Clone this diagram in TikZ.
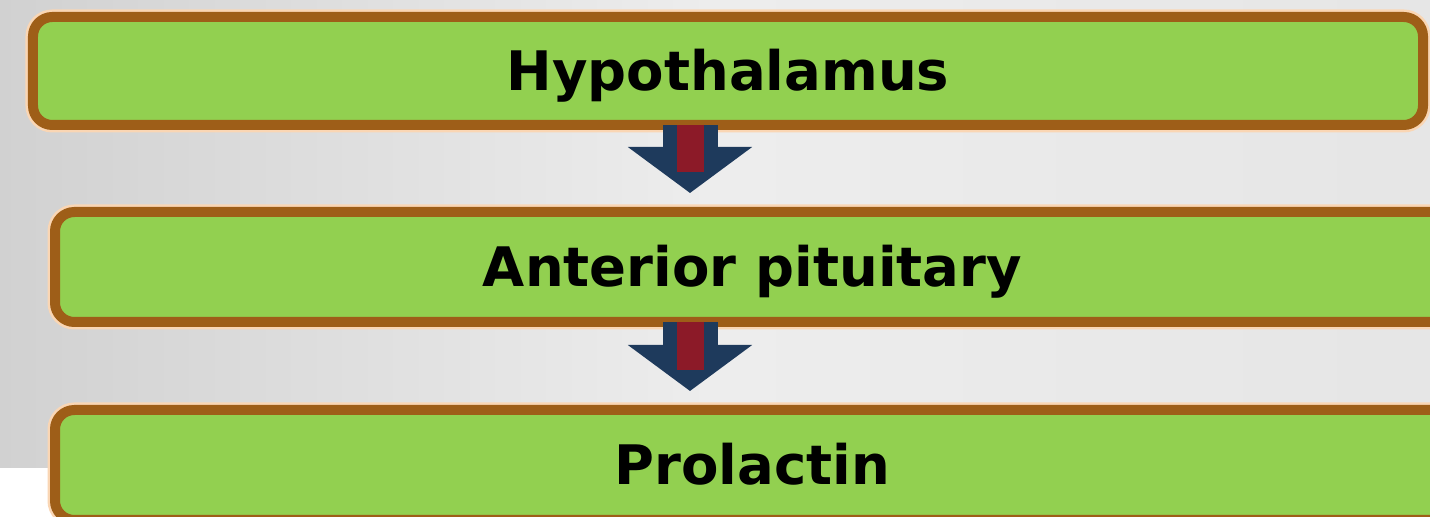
\documentclass[tikz,border=0pt]{standalone}
\usepackage{fontspec}
\setmainfont{DejaVu Sans}
\usepackage{tikz}
\usepackage{xcolor}
\usetikzlibrary{arrows.meta, positioning, calc}
\definecolor{cGreen}{RGB}{146,208,80}
\definecolor{cBrown}{RGB}{158,94,24}
\definecolor{cGlow}{RGB}{250,214,180}
\definecolor{cNavy}{RGB}{30,58,92}
\definecolor{cRed}{RGB}{140,26,40}
\tikzset{
	stagebox/.style={rectangle, rounded corners=11pt, draw=cBrown, line width=0.2cm, fill=cGreen,
		preaction={draw=cGlow, line width=0.3cm}, align=center, inner sep=0pt,
		text height=0.8cm, text depth=0cm, font=\fontsize{31}{36}\selectfont\bfseries},
	blockarr/.style={-{Triangle[width=2.44cm, length=0.92cm]}, line width=1.1cm, cNavy},
	arrcore/.style ={line width=0.54cm, cRed},
}
\begin{document}
\begin{tikzpicture}
	\useasboundingbox (0,0) rectangle (28.6,10.34);
	\fill[white] (0,0) rectangle (28.6,10.34);
	% background
	\shade[left color=black!18, right color=black!10, middle color=black!7] (0,0.98) rectangle (28.6,10.34);
	% stages
	\node[stagebox, minimum width=27.8cm, minimum height=2.16cm] (hypo) at (14.56,8.92) {Hypothalamus};
	\node[stagebox, minimum width=27.9cm, minimum height=2.2cm] (ant) at (15.05,5.0) {Anterior pituitary};
	\node[stagebox, minimum width=27.9cm, minimum height=2.2cm] (prl) at (15.05,1.04) {Prolactin};
	\coordinate (ax) at (13.8,0);
	% arrows
	\draw[blockarr, shorten >=0.28cm] ([yshift=1mm]hypo.south -| ax) -- (ant.north -| ax);
	\draw[arrcore, shorten >=0.7cm] ([yshift=1mm]hypo.south -| ax) -- (ant.north -| ax);
	\draw[blockarr, shorten >=0.28cm] ([yshift=1mm]ant.south -| ax) -- (prl.north -| ax);
	\draw[arrcore, shorten >=0.7cm] ([yshift=1mm]ant.south -| ax) -- (prl.north -| ax);
\end{tikzpicture}
\end{document}
